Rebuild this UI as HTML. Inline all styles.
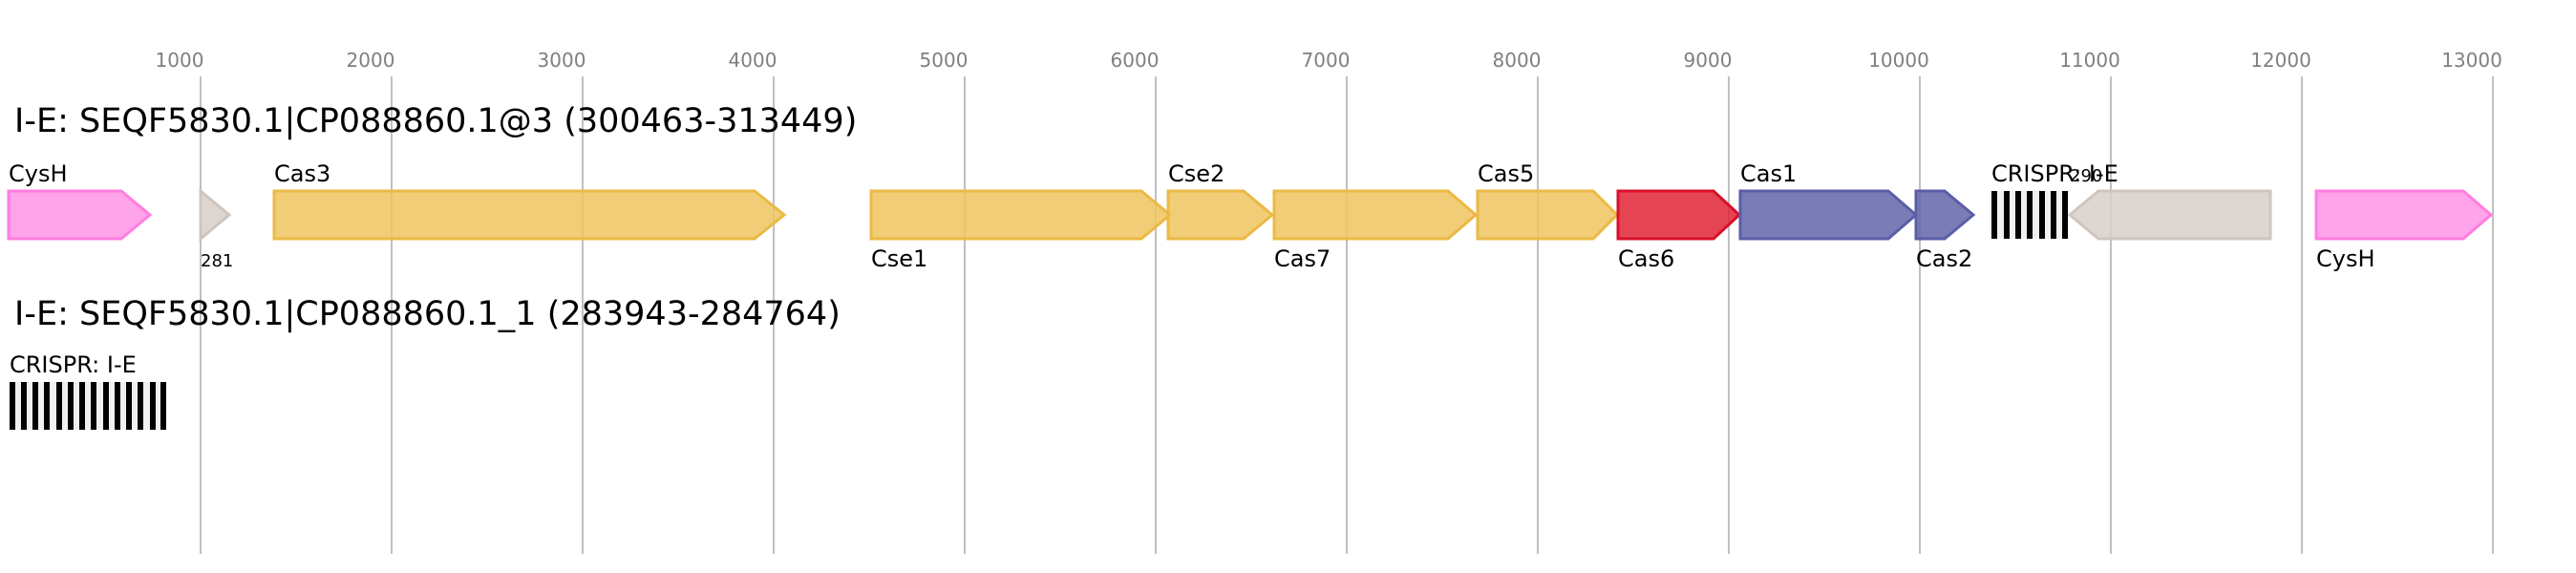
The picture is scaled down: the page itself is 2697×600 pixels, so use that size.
<!DOCTYPE html>
<html><head><meta charset="utf-8"><style>
html,body{margin:0;padding:0;background:#fff;}
svg{display:block;}
text{font-family:"DejaVu Sans","Liberation Sans",sans-serif;}
</style></head><body>
<svg width="2697" height="600" viewBox="0 0 2697 600" xmlns="http://www.w3.org/2000/svg">
<g stroke="#c0c0c0" stroke-width="2">
<line x1="210" y1="80" x2="210" y2="580"/><line x1="410" y1="80" x2="410" y2="580"/>
<line x1="610" y1="80" x2="610" y2="580"/><line x1="810" y1="80" x2="810" y2="580"/>
<line x1="1010" y1="80" x2="1010" y2="580"/><line x1="1210" y1="80" x2="1210" y2="580"/>
<line x1="1410" y1="80" x2="1410" y2="580"/><line x1="1610" y1="80" x2="1610" y2="580"/>
<line x1="1810" y1="80" x2="1810" y2="580"/><line x1="2010" y1="80" x2="2010" y2="580"/>
<line x1="2210" y1="80" x2="2210" y2="580"/><line x1="2410" y1="80" x2="2410" y2="580"/>
<line x1="2610" y1="80" x2="2610" y2="580"/>
</g>
<g fill="#808080" font-size="20" text-anchor="middle">
<text x="188" y="70">1000</text><text x="388" y="70">2000</text><text x="588" y="70">3000</text>
<text x="788" y="70">4000</text><text x="988" y="70">5000</text><text x="1188" y="70">6000</text>
<text x="1388" y="70">7000</text><text x="1588" y="70">8000</text><text x="1788" y="70">9000</text>
<text x="1988" y="70">10000</text><text x="2188" y="70">11000</text><text x="2388" y="70">12000</text>
<text x="2588" y="70">13000</text>
</g>
<text x="15" y="138" font-size="35" fill="#000">I-E: SEQF5830.1|CP088860.1@3 (300463-313449)</text>
<g stroke-width="3" fill-opacity="0.85">
<polygon points="9,200 127,200 157,225 127,250 9,250" fill="#ff93e6" stroke="#ff7ee0"/>
<polygon points="210,200 240,225 210,250" fill="#d8cfc9" stroke="#d0c5bd"/>
<polygon points="287,200 790,200 821,225 790,250 287,250" fill="#eec460" stroke="#ebb944"/>
<polygon points="912,200 1195,200 1225,225 1195,250 912,250" fill="#eec460" stroke="#ebb944"/>
<polygon points="1223,200 1302,200 1332,225 1302,250 1223,250" fill="#eec460" stroke="#ebb944"/>
<polygon points="1334,200 1516,200 1545,225 1516,250 1334,250" fill="#eec460" stroke="#ebb944"/>
<polygon points="1547,200 1668,200 1693,225 1668,250 1547,250" fill="#eec460" stroke="#ebb944"/>
<polygon points="1694,200 1794,200 1821,225 1794,250 1694,250" fill="#e02535" stroke="#d9102a"/>
<polygon points="1822,200 1977,200 2006,225 1977,250 1822,250" fill="#6165a8" stroke="#5a5ea8"/>
<polygon points="2006,200 2036,200 2066,225 2036,250 2006,250" fill="#6165a8" stroke="#5a5ea8"/>
<polygon points="2167,225 2197,200 2377,200 2377,250 2197,250" fill="#d8cfc9" stroke="#d0c5bd"/>
<polygon points="2425,200 2579,200 2608,225 2579,250 2425,250" fill="#ff93e6" stroke="#ff7ee0"/>
</g>
<rect x="2085" y="200" width="80" height="50" fill="#f0f0f0"/>
<g fill="#000">
<rect x="2085" y="200" width="6" height="50"/><rect x="2098" y="200" width="6" height="50"/>
<rect x="2110" y="200" width="6" height="50"/><rect x="2122" y="200" width="6" height="50"/>
<rect x="2135" y="200" width="6" height="50"/><rect x="2147" y="200" width="6" height="50"/>
<rect x="2159" y="200" width="6" height="50"/>
</g>
<g font-size="24" fill="#000">
<text x="9" y="190">CysH</text><text x="287" y="190">Cas3</text>
<text x="1223" y="190">Cse2</text><text x="1547" y="190">Cas5</text><text x="1822" y="190">Cas1</text>
<text x="2085" y="190">CRISPR: I-E</text>
<text x="912" y="279">Cse1</text><text x="1334" y="279">Cas7</text><text x="1694" y="279">Cas6</text>
<text x="2006" y="279">Cas2</text><text x="2425" y="279">CysH</text>
</g>
<text x="210" y="279" font-size="18" fill="#000">281</text>
<text x="2167" y="190" font-size="18" fill="#000">290</text>
<text x="15" y="340" font-size="35" fill="#000">I-E: SEQF5830.1|CP088860.1_1 (283943-284764)</text>
<text x="10" y="390" font-size="24" fill="#000">CRISPR: I-E</text>
<rect x="10" y="400" width="164" height="50" fill="#f0f0f0"/>
<g fill="#000">
<rect x="10" y="400" width="6" height="50"/><rect x="22" y="400" width="6" height="50"/>
<rect x="34" y="400" width="6" height="50"/><rect x="46" y="400" width="6" height="50"/>
<rect x="59" y="400" width="6" height="50"/><rect x="71" y="400" width="6" height="50"/>
<rect x="83" y="400" width="6" height="50"/><rect x="95" y="400" width="6" height="50"/>
<rect x="108" y="400" width="6" height="50"/><rect x="120" y="400" width="6" height="50"/>
<rect x="132" y="400" width="6" height="50"/><rect x="144" y="400" width="6" height="50"/>
<rect x="157" y="400" width="6" height="50"/><rect x="168" y="400" width="6" height="50"/>
</g>
</svg>
</body></html>
